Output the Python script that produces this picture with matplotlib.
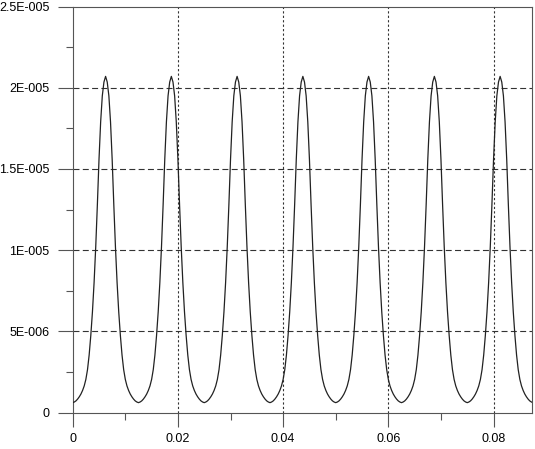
import matplotlib
matplotlib.use("Agg")
import matplotlib.pyplot as plt
from matplotlib.ticker import FixedLocator, MultipleLocator

plt.rcParams['font.family'] = ['Liberation Sans', 'DejaVu Sans']
plt.rcParams['lines.scale_dashes'] = False

# time in ms, one row per pulse period
t_ms = [
    0, 0.3125, 0.625, 0.9375, 1.25, 1.5625, 1.875, 2.1875, 2.5, 2.8125, 3.125, 3.4375, 3.75, 4.0625, 4.375, 4.6875, 5, 5.3125, 5.625, 5.9375,
    6.25, 6.5625, 6.875, 7.1875, 7.5, 7.8125, 8.125, 8.4375, 8.75, 9.0625, 9.375, 9.6875, 10, 10.3125, 10.625, 10.9375, 11.25, 11.5625, 11.875, 12.1875,
    12.5, 12.8125, 13.125, 13.4375, 13.75, 14.0625, 14.375, 14.6875, 15, 15.3125, 15.625, 15.9375, 16.25, 16.5625, 16.875, 17.1875, 17.5, 17.8125, 18.125, 18.4375,
    18.75, 19.0625, 19.375, 19.6875, 20, 20.3125, 20.625, 20.9375, 21.25, 21.5625, 21.875, 22.1875, 22.5, 22.8125, 23.125, 23.4375, 23.75, 24.0625, 24.375, 24.6875,
    25, 25.3125, 25.625, 25.9375, 26.25, 26.5625, 26.875, 27.1875, 27.5, 27.8125, 28.125, 28.4375, 28.75, 29.0625, 29.375, 29.6875, 30, 30.3125, 30.625, 30.9375,
    31.25, 31.5625, 31.875, 32.1875, 32.5, 32.8125, 33.125, 33.4375, 33.75, 34.0625, 34.375, 34.6875, 35, 35.3125, 35.625, 35.9375, 36.25, 36.5625, 36.875, 37.1875,
    37.5, 37.8125, 38.125, 38.4375, 38.75, 39.0625, 39.375, 39.6875, 40, 40.3125, 40.625, 40.9375, 41.25, 41.5625, 41.875, 42.1875, 42.5, 42.8125, 43.125, 43.4375,
    43.75, 44.0625, 44.375, 44.6875, 45, 45.3125, 45.625, 45.9375, 46.25, 46.5625, 46.875, 47.1875, 47.5, 47.8125, 48.125, 48.4375, 48.75, 49.0625, 49.375, 49.6875,
    50, 50.3125, 50.625, 50.9375, 51.25, 51.5625, 51.875, 52.1875, 52.5, 52.8125, 53.125, 53.4375, 53.75, 54.0625, 54.375, 54.6875, 55, 55.3125, 55.625, 55.9375,
    56.25, 56.5625, 56.875, 57.1875, 57.5, 57.8125, 58.125, 58.4375, 58.75, 59.0625, 59.375, 59.6875, 60, 60.3125, 60.625, 60.9375, 61.25, 61.5625, 61.875, 62.1875,
    62.5, 62.8125, 63.125, 63.4375, 63.75, 64.0625, 64.375, 64.6875, 65, 65.3125, 65.625, 65.9375, 66.25, 66.5625, 66.875, 67.1875, 67.5, 67.8125, 68.125, 68.4375,
    68.75, 69.0625, 69.375, 69.6875, 70, 70.3125, 70.625, 70.9375, 71.25, 71.5625, 71.875, 72.1875, 72.5, 72.8125, 73.125, 73.4375, 73.75, 74.0625, 74.375, 74.6875,
    75, 75.3125, 75.625, 75.9375, 76.25, 76.5625, 76.875, 77.1875, 77.5, 77.8125, 78.125, 78.4375, 78.75, 79.0625, 79.375, 79.6875, 80, 80.3125, 80.625, 80.9375,
    81.25, 81.5625, 81.875, 82.1875, 82.5, 82.8125, 83.125, 83.4375, 83.75, 84.0625, 84.375, 84.6875, 85, 85.3125, 85.625, 85.9375, 86.25, 86.5625, 86.875, 87.1875,
    87.5,
]

# signal in units of 1e-6 (rise, then fall, per row pair)
v_micro = [
    0.62, 0.66, 0.73, 0.84, 0.98, 1.15, 1.37, 1.65, 2.05, 2.65, 3.55, 4.75, 6.2, 8.0, 10.2, 12.8, 15.6, 17.9, 19.5, 20.35,
    20.7, 20.35, 19.5, 17.9, 15.6, 12.8, 10.2, 8.0, 6.2, 4.75, 3.55, 2.65, 2.05, 1.65, 1.37, 1.15, 0.98, 0.84, 0.73, 0.66,
    0.62, 0.66, 0.73, 0.84, 0.98, 1.15, 1.37, 1.65, 2.05, 2.65, 3.55, 4.75, 6.2, 8.0, 10.2, 12.8, 15.6, 17.9, 19.5, 20.35,
    20.7, 20.35, 19.5, 17.9, 15.6, 12.8, 10.2, 8.0, 6.2, 4.75, 3.55, 2.65, 2.05, 1.65, 1.37, 1.15, 0.98, 0.84, 0.73, 0.66,
    0.62, 0.66, 0.73, 0.84, 0.98, 1.15, 1.37, 1.65, 2.05, 2.65, 3.55, 4.75, 6.2, 8.0, 10.2, 12.8, 15.6, 17.9, 19.5, 20.35,
    20.7, 20.35, 19.5, 17.9, 15.6, 12.8, 10.2, 8.0, 6.2, 4.75, 3.55, 2.65, 2.05, 1.65, 1.37, 1.15, 0.98, 0.84, 0.73, 0.66,
    0.62, 0.66, 0.73, 0.84, 0.98, 1.15, 1.37, 1.65, 2.05, 2.65, 3.55, 4.75, 6.2, 8.0, 10.2, 12.8, 15.6, 17.9, 19.5, 20.35,
    20.7, 20.35, 19.5, 17.9, 15.6, 12.8, 10.2, 8.0, 6.2, 4.75, 3.55, 2.65, 2.05, 1.65, 1.37, 1.15, 0.98, 0.84, 0.73, 0.66,
    0.62, 0.66, 0.73, 0.84, 0.98, 1.15, 1.37, 1.65, 2.05, 2.65, 3.55, 4.75, 6.2, 8.0, 10.2, 12.8, 15.6, 17.9, 19.5, 20.35,
    20.7, 20.35, 19.5, 17.9, 15.6, 12.8, 10.2, 8.0, 6.2, 4.75, 3.55, 2.65, 2.05, 1.65, 1.37, 1.15, 0.98, 0.84, 0.73, 0.66,
    0.62, 0.66, 0.73, 0.84, 0.98, 1.15, 1.37, 1.65, 2.05, 2.65, 3.55, 4.75, 6.2, 8.0, 10.2, 12.8, 15.6, 17.9, 19.5, 20.35,
    20.7, 20.35, 19.5, 17.9, 15.6, 12.8, 10.2, 8.0, 6.2, 4.75, 3.55, 2.65, 2.05, 1.65, 1.37, 1.15, 0.98, 0.84, 0.73, 0.66,
    0.62, 0.66, 0.73, 0.84, 0.98, 1.15, 1.37, 1.65, 2.05, 2.65, 3.55, 4.75, 6.2, 8.0, 10.2, 12.8, 15.6, 17.9, 19.5, 20.35,
    20.7, 20.35, 19.5, 17.9, 15.6, 12.8, 10.2, 8.0, 6.2, 4.75, 3.55, 2.65, 2.05, 1.65, 1.37, 1.15, 0.98, 0.84, 0.73, 0.66,
    0.62,
]

x_ticks = [0, 0.02, 0.04, 0.06, 0.08]
x_labels = ["0", "0.02", "0.04", "0.06", "0.08"]
y_ticks = [0, 5e-6, 1e-5, 1.5e-5, 2e-5, 2.5e-5]
y_labels = ["0", "5E-006", "1E-005", "1.5E-005", "2E-005", "2.5E-005"]

assert len(t_ms) == len(v_micro)
t = [a * 1e-3 for a in t_ms]
v = [a * 1e-6 for a in v_micro]

fig = plt.figure(figsize=(5.35, 4.49), dpi=100)
ax = fig.add_axes([0.1359, 0.0808, 0.9953 - 0.1359, 0.9855 - 0.0808])

axis_col = "#555555"
grid_col = "#333333"

# dashed grid
for yv in y_ticks[1:-1]:
    ax.axhline(yv, color=grid_col, lw=0.8, dashes=(4.3, 2.4), zorder=1)
for xv in x_ticks[1:]:
    ax.axvline(xv, color=grid_col, lw=0.8, dashes=(1.6, 1.6), zorder=1)

ax.plot(t, v, color="#222222", lw=0.9, zorder=3)

ax.set_xlim(0, 0.0874)
ax.set_ylim(0, 2.5e-5)

ax.xaxis.set_major_locator(FixedLocator(x_ticks))
ax.set_xticklabels(x_labels)
ax.xaxis.set_minor_locator(MultipleLocator(0.01))
ax.yaxis.set_major_locator(FixedLocator(y_ticks))
ax.set_yticklabels(y_labels)
ax.yaxis.set_minor_locator(MultipleLocator(2.5e-6))

ax.tick_params(axis='x', which='major', direction='out', length=9.8, width=0.8,
               color=axis_col, labelsize=9, pad=4.5, top=False)
ax.tick_params(axis='x', which='minor', direction='out', length=4.7, width=0.8,
               color=axis_col, top=False)
ax.tick_params(axis='y', which='major', direction='out', length=10.8, width=0.8,
               color=axis_col, labelsize=9, pad=6, right=False)
ax.tick_params(axis='y', which='minor', direction='out', length=5, width=0.8,
               color=axis_col, right=False)

for s in ax.spines.values():
    s.set_color(axis_col)
    s.set_linewidth(0.8)

fig.savefig("out.png", dpi=100)
